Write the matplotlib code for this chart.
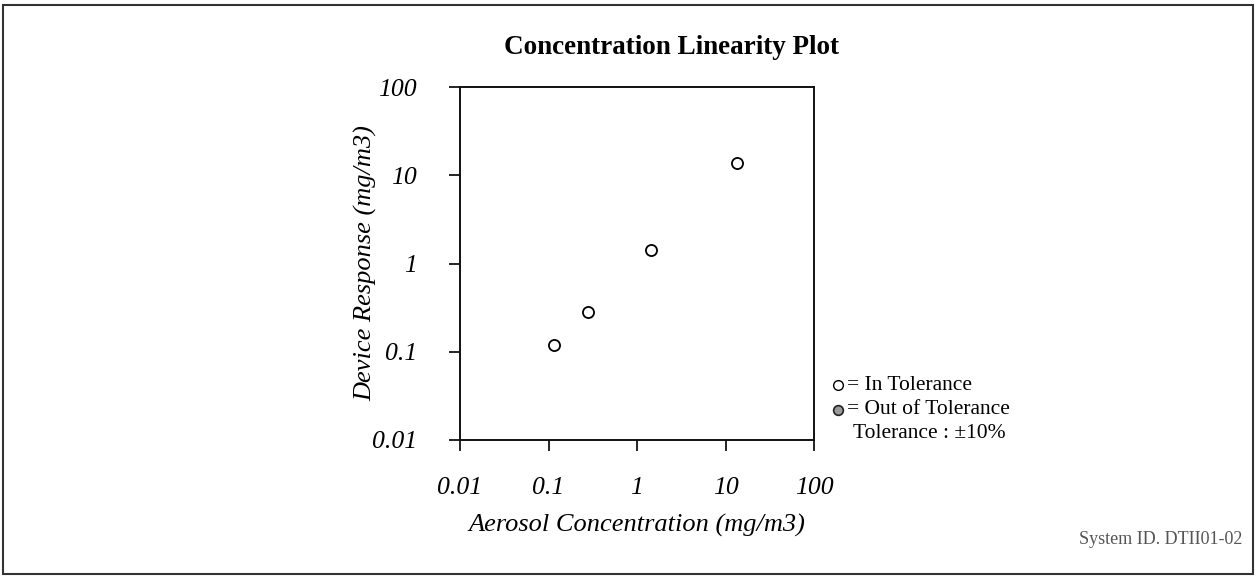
import matplotlib
matplotlib.use("Agg")
import matplotlib.pyplot as plt
from matplotlib.lines import Line2D
from matplotlib.patches import Rectangle
import numpy as np

# measured concentrations (mg/m3)
aerosol_conc = [0.116, 0.28, 1.44, 13.4]
device_resp = [0.12, 0.285, 1.42, 13.6]
in_tolerance = [True, True, True, True]

tick_vals = [0.01, 0.1, 1, 10, 100]
tick_labels = ["0.01", "0.1", "1", "10", "100"]

title = "Concentration Linearity Plot"
x_label = "Aerosol Concentration (mg/m3)"
y_label = "Device Response (mg/m3)"
system_id = "System ID. DTII01-02"

plt.rcParams['font.family'] = ['Liberation Serif', 'DejaVu Serif']

W, H = 1256, 579
fig = plt.figure(figsize=(W/100, H/100), dpi=100)
ax = fig.add_axes([460/W, 1-440/H, 354/W, 353/H])

for xv, yv, ok in zip(aerosol_conc, device_resp, in_tolerance):
    if ok:
        ax.plot(xv, yv, 'o', ms=8, mfc='white', mec='black', mew=1.3)
    else:
        ax.plot(xv, yv, 'o', ms=8, mfc='#888888', mec='black', mew=1.3)

ax.set_xscale('log')
ax.set_yscale('log')
ax.set_xlim(0.01, 100)
ax.set_ylim(0.01, 100)
ax.set_xticks(tick_vals)
ax.set_xticklabels(tick_labels, fontstyle='italic', fontsize=18.5)
ax.set_yticks(tick_vals)
ax.set_yticklabels(tick_labels, fontstyle='italic', fontsize=18.5)
ax.minorticks_off()
ax.tick_params(axis='x', direction='out', length=8, width=1.2, pad=19)
ax.tick_params(axis='y', direction='out', length=8, width=1.2, pad=23)
for sp in ax.spines.values():
    sp.set_linewidth(1.4)
    sp.set_color('#111111')

ax.set_xlabel(x_label, fontstyle='italic', fontsize=19)
ax.xaxis.set_label_coords(0.5, -0.21)
ax.set_ylabel(y_label, fontstyle='italic', fontsize=19)
ax.yaxis.set_label_coords(-0.235, 0.5)

fig.text(671/W, 1-48/H, title, ha='center', va='center',
         fontsize=19.5, fontweight='bold')

# tolerance key
fig.add_artist(Line2D([838/W], [1-385/H], marker='o', ms=7, mfc='white',
                      mec='black', mew=1.0, transform=fig.transFigure))
fig.text(847/W, 1-385/H, "= In Tolerance", ha='left', va='center', fontsize=15.5)
fig.add_artist(Line2D([838/W], [1-410/H], marker='o', ms=7, mfc='#999999',
                      mec='#222222', mew=1.2, transform=fig.transFigure))
fig.text(847/W, 1-410/H, "= Out of Tolerance", ha='left', va='center', fontsize=15.5)
fig.text(853/W, 1-434/H, "Tolerance : \u00b110%", ha='left', va='center', fontsize=15.5)

fig.text(1242/W, 1-540/H, system_id, ha='right', va='center',
         fontsize=13, color='#555555')

# scanned page frame
fig.add_artist(Rectangle((3/W, 1-574/H), 1250/W, 569/H, fill=False,
                         ec='#333333', lw=1.5, transform=fig.transFigure))

fig.savefig("out.png", dpi=100)
plt.close(fig)
